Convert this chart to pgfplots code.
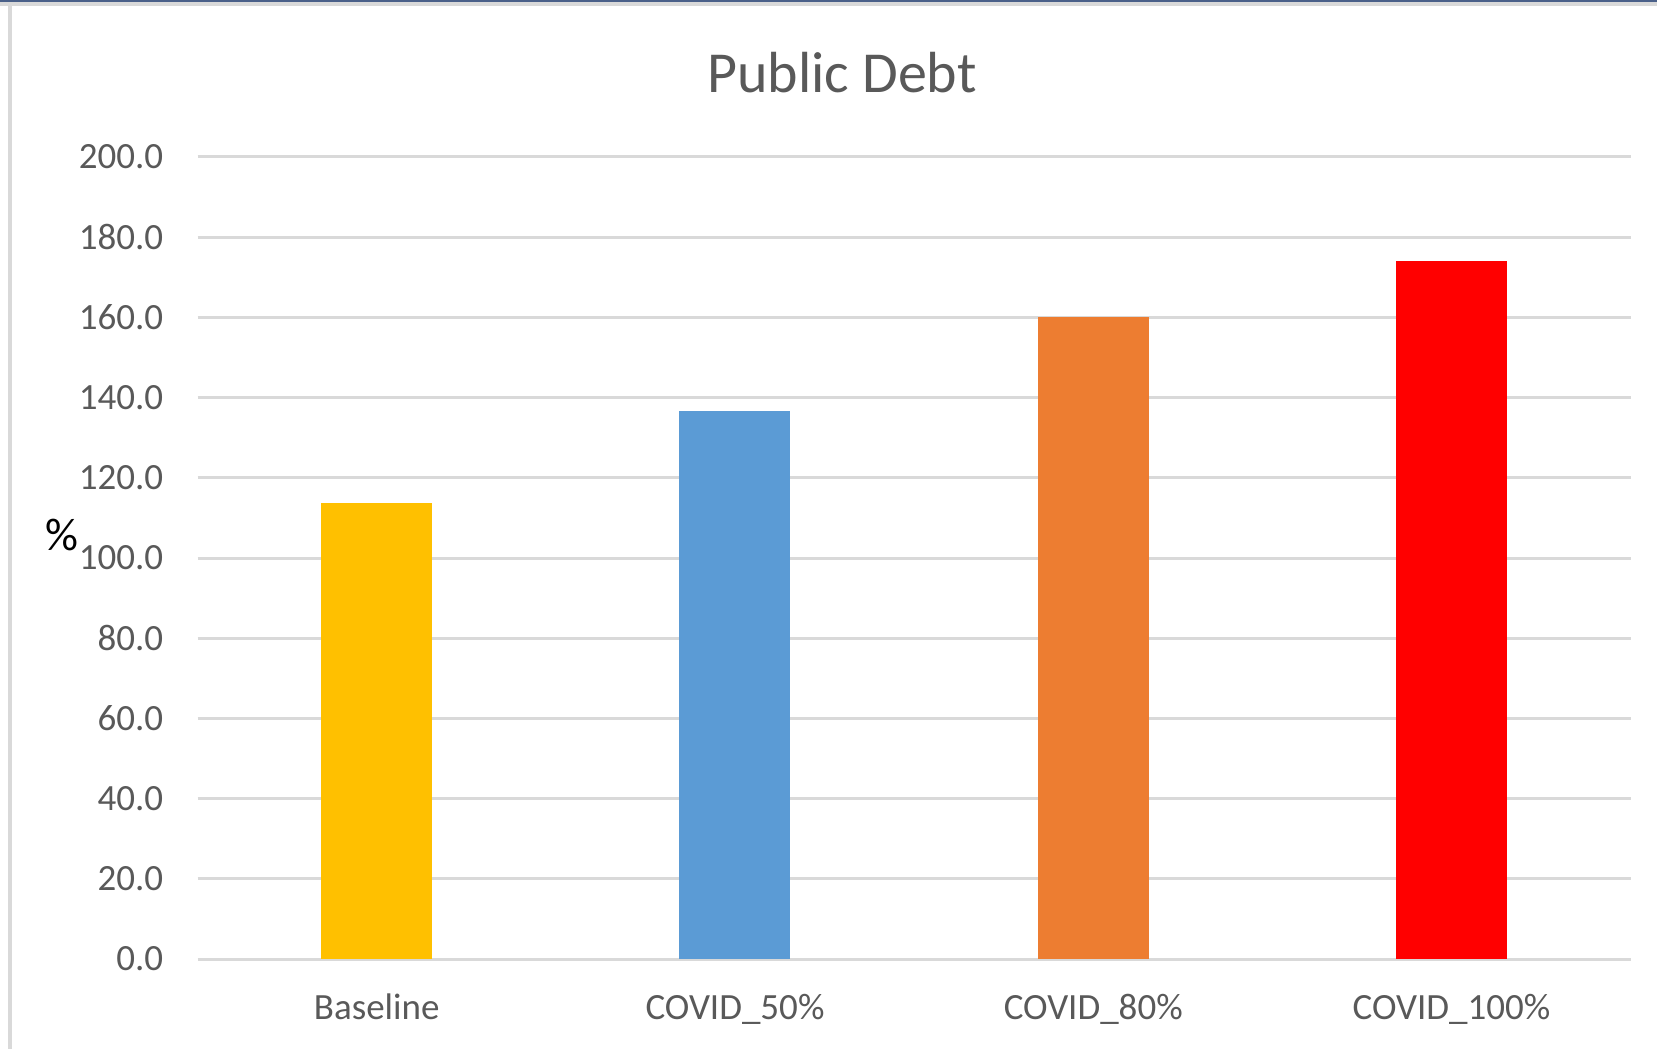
\documentclass[border=0pt]{standalone}
\usepackage{pgfplots}
\pgfplotsset{compat=1.18}
\usepackage{fontspec}
\setmainfont{Carlito}
\definecolor{txtgray}{HTML}{595959}
\definecolor{gridgray}{HTML}{D9D9D9}
\definecolor{cBase}{HTML}{FFC000}
\definecolor{cFifty}{HTML}{5B9BD5}
\definecolor{cEighty}{HTML}{ED7D31}
\definecolor{cHundred}{HTML}{FF0000}
\definecolor{topstrip}{HTML}{4A6089}
\begin{document}
\begin{tikzpicture}
\path[use as bounding box] (0pt,0pt) rectangle (828.5pt,524.5pt);
\fill[white] (0pt,0pt) rectangle (828.5pt,524.5pt);
\fill[topstrip] (0pt,523.5pt) rectangle (828.5pt,524.5pt);
\fill[gridgray] (0pt,521.5pt) rectangle (828.5pt,523.5pt);
\fill[gridgray] (4.2pt,0pt) rectangle (5.8pt,522pt);
\begin{axis}[
  at={(98.8pt,45pt)}, anchor=south west,
  scale only axis, width=716.5pt, height=401pt,
  xmin=-0.5, xmax=3.5, ymin=0, ymax=200,
  ytick={0,20,...,200},
  xtick={0,1,2,3},
  xticklabels={Baseline,COVID\_50\%,COVID\_80\%,COVID\_100\%},
  axis line style={draw=none},
  tick style={draw=none},
  ymajorgrids,
  grid style={gridgray, line width=1.5pt},
  /pgf/number format/assume math mode=true,
  yticklabel={\pgfmathprintnumber[fixed,fixed zerofill,precision=1]{\tick}},
  yticklabel style={anchor=east, inner sep=0pt, xshift=-17pt, text=txtgray, font=\fontsize{18.5}{22}\selectfont},
  xticklabel style={anchor=base, inner sep=0pt, yshift=-25.8pt, text=txtgray, font=\fontsize{18.5}{22}\selectfont},
  ybar, bar width=55.5pt, bar shift=0pt,
]
\addplot[fill=cBase, draw=none] coordinates {(0,113.8)};
\addplot[fill=cFifty, draw=none] coordinates {(1,136.7)};
\addplot[fill=cEighty, draw=none] coordinates {(2,160.2)};
\addplot[fill=cHundred, draw=none] coordinates {(3,174.0)};
\end{axis}
\node[anchor=base, inner sep=0pt, text=txtgray, font=\fontsize{29}{34}\selectfont] at (421pt,478pt) {Public Debt};
\node[anchor=center, inner sep=0pt, text=black, font=\fontsize{23}{27}\selectfont] at (31pt,257pt) {\%};
\end{tikzpicture}
\end{document}
